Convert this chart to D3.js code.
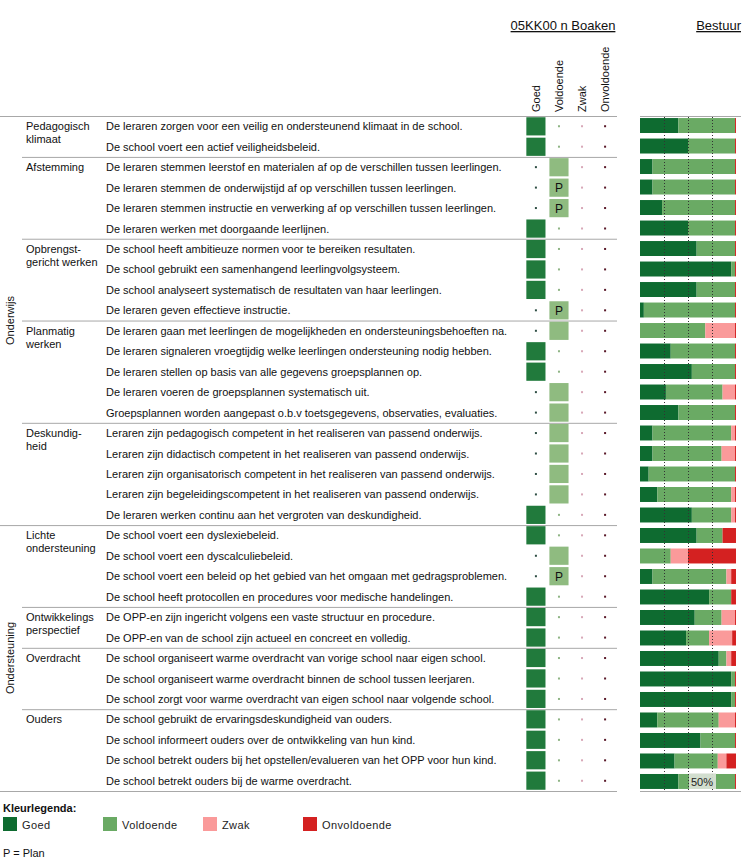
<!DOCTYPE html>
<html><head><meta charset="utf-8">
<script src="https://cdn.jsdelivr.net/npm/d3@7"></script>
<style>
body{margin:0;background:#fff;}
svg text{font-family:Arial,"Liberation Sans",sans-serif;}
</style></head><body>
<svg id="c" width="747" height="864"></svg>
<script>
const schoolName = "05KK00 n Boaken";
const boardName = "Bestuur";
const levels = ["Goed","Voldoende","Zwak","Onvoldoende"];
const levelColors = ["#0e6b30","#6aaa64","#fa9a9a","#d42121"];
const squareColors = {Goed:"#217a3c", Voldoende:"#8fbb80"};
const dotColors = ["#2f4f45","#8fb585","#d8a8b8","#5a1a2a"];

const mainCats = [
  {name:"Onderwijs", start:0, end:19},
  {name:"Ondersteuning", start:20, end:32}
];
const subCats = [
  {name:["Pedagogisch","klimaat"], start:0, end:1},
  {name:["Afstemming"], start:2, end:5},
  {name:["Opbrengst-","gericht werken"], start:6, end:9},
  {name:["Planmatig","werken"], start:10, end:14},
  {name:["Deskundig-","heid"], start:15, end:19},
  {name:["Lichte","ondersteuning"], start:20, end:23},
  {name:["Ontwikkelings","perspectief"], start:24, end:25},
  {name:["Overdracht"], start:26, end:28},
  {name:["Ouders"], start:29, end:32}
];
const items = [
  "De leraren zorgen voor een veilig en ondersteunend klimaat in de school.",
  "De school voert een actief veiligheidsbeleid.",
  "De leraren stemmen leerstof en materialen af op de verschillen tussen leerlingen.",
  "De leraren stemmen de onderwijstijd af op verschillen tussen leerlingen.",
  "De leraren stemmen instructie en verwerking af op verschillen tussen leerlingen.",
  "De leraren werken met doorgaande leerlijnen.",
  "De school heeft ambitieuze normen voor te bereiken resultaten.",
  "De school gebruikt een samenhangend leerlingvolgsysteem.",
  "De school analyseert systematisch de resultaten van haar leerlingen.",
  "De leraren geven effectieve instructie.",
  "De leraren gaan met leerlingen de mogelijkheden en ondersteuningsbehoeften na.",
  "De leraren signaleren vroegtijdig welke leerlingen ondersteuning nodig hebben.",
  "De leraren stellen op basis van alle gegevens groepsplannen op.",
  "De leraren voeren de groepsplannen systematisch uit.",
  "Groepsplannen worden aangepast o.b.v toetsgegevens, observaties, evaluaties.",
  "Leraren zijn pedagogisch competent in het realiseren van passend onderwijs.",
  "Leraren zijn didactisch competent in het realiseren van passend onderwijs.",
  "Leraren zijn organisatorisch competent in het realiseren van passend onderwijs.",
  "Leraren zijn begeleidingscompetent in het realiseren van passend onderwijs.",
  "De leraren werken continu aan het vergroten van deskundigheid.",
  "De school voert een dyslexiebeleid.",
  "De school voert een dyscalculiebeleid.",
  "De school voert een beleid op het gebied van het omgaan met gedragsproblemen.",
  "De school heeft protocollen en procedures voor medische handelingen.",
  "De OPP-en zijn ingericht volgens een vaste structuur en procedure.",
  "De OPP-en van de school zijn actueel en concreet en volledig.",
  "De school organiseert warme overdracht van vorige school naar eigen school.",
  "De school organiseert warme overdracht binnen de school tussen leerjaren.",
  "De school zorgt voor warme overdracht van eigen school naar volgende school.",
  "De school gebruikt de ervaringsdeskundigheid van ouders.",
  "De school informeert ouders over de ontwikkeling van hun kind.",
  "De school betrekt ouders bij het opstellen/evalueren van het OPP voor hun kind.",
  "De school betrekt ouders bij de warme overdracht."
];
// school score per item (G = Goed, V = Voldoende)
const schoolScore = ["G","G","V","V","V","G","G","G","G","V","V","G","G","V","V","V","V","V","V","G","G","V","V","G","G","G","G","G","G","G","G","G","G"];
const planFlag =    [0,0,0,1,1,0,0,0,0,1,0,0,0,0,0,0,0,0,0,0,0,0,1,0,0,0,0,0,0,0,0,0,0];
// board distribution (%)
const boardGoed =        [40,50,13,13,23,50,59,95,59, 4, 0,32,54,27,40,13,13, 9,18,54,59, 0,13,72,57,48,82,95,95,18,63,36,40];
const boardVoldoende =   [59,49,86,86,76,49,40, 4,40,95,68,67,45,59,59,82,72,90,77,41,27,32,77,23,28,24, 8, 4, 4,64,36,45,59];
const boardZwak =        [ 0, 0, 0, 0, 0, 0, 0, 0, 0, 0,31, 0, 0,13, 0, 4,14, 0, 4, 4, 0,18, 5, 0,14,24, 5, 0, 0,17, 0, 9, 0];
const boardOnvoldoende = [ 1, 1, 1, 1, 1, 1, 1, 1, 1, 1, 1, 1, 1, 1, 1, 1, 1, 1, 1, 1,14,50, 5, 5, 1, 4, 5, 1, 1, 1, 1,10, 1];
const gridTicks = [25,50,75];
const axisLabelValue = 50;

const svg = d3.select("#c");
const font = "Arial, 'Liberation Sans', sans-serif";
const lineColor = "#a8a8a8";

const y = d3.scaleBand().domain(d3.range(items.length)).range([116,791]).padding(0);
const ySq = d3.scaleBand().domain(d3.range(items.length)).range([116,791]).paddingInner(0.11).paddingOuter(0.06);
const yBar = d3.scaleBand().domain(d3.range(items.length)).range([116,791]).paddingInner(0.27).paddingOuter(0.1);
const xCol = d3.scaleBand().domain(levels).range([524.5,616.5]).paddingInner(0.17).paddingOuter(0.08);
const xBar = d3.scaleLinear().domain([0,100]).range([640,736]);

// headers
svg.append("text").attr("x",563).attr("y",30).attr("text-anchor","middle")
  .attr("font-size",13).attr("text-decoration","underline").attr("fill","#111").text(schoolName);
svg.append("text").attr("x",741).attr("y",30).attr("text-anchor","end")
  .attr("font-size",13).attr("text-decoration","underline").attr("fill","#111").text(boardName);
levels.forEach(l=>{
  const cx = xCol(l)+xCol.bandwidth()/2;
  svg.append("text").attr("transform",`translate(${cx+4},112) rotate(-90)`)
    .attr("font-size",11).attr("fill","#111").text(l);
});

// lines
const lineG = svg.append("g");
const mainBoundaries = [0, ...mainCats.map(m=>m.end+1)];
const subBoundaries = subCats.map(s=>s.start).filter(s=>!mainBoundaries.includes(s));
const yb = i => i < items.length ? y(i) : y.range()[1];
mainBoundaries.forEach(b=>{
  lineG.append("line").attr("x1",0).attr("x2",617).attr("y1",yb(b)+0.5).attr("y2",yb(b)+0.5)
    .attr("stroke",lineColor).attr("stroke-width",1);
});
subBoundaries.forEach(b=>{
  lineG.append("line").attr("x1",22).attr("x2",617).attr("y1",yb(b)+0.5).attr("y2",yb(b)+0.5)
    .attr("stroke",lineColor).attr("stroke-width",1);
});

// main cat labels
mainCats.forEach(m=>{
  const cy = (y(m.start) + yb(m.end+1))/2;
  svg.append("text").attr("transform",`translate(14,${cy}) rotate(-90)`).attr("text-anchor","middle")
    .attr("font-size",11).attr("fill","#111").text(m.name);
});
// sub cat labels
subCats.forEach(s=>{
  const t = svg.append("text").attr("x",26).attr("y",y(s.start)+y.bandwidth()/2+4)
    .attr("font-size",11).attr("fill","#111");
  s.name.forEach((n,k)=>t.append("tspan").attr("x",26).attr("dy",k?13:0).text(n));
});
// items
svg.append("g").selectAll("text").data(items).join("text")
  .attr("x",106).attr("y",(d,i)=>y(i)+y.bandwidth()/2+4)
  .attr("font-size",11).attr("fill","#111").text(d=>d);

// score squares & dots
const scoreG = svg.append("g");
schoolScore.forEach((s,i)=>{
  const lvl = s==="G" ? "Goed" : "Voldoende";
  levels.forEach((l,k)=>{
    const cx = xCol(l)+xCol.bandwidth()/2, cy = y(i)+y.bandwidth()/2;
    if(l===lvl){
      scoreG.append("rect").attr("x",xCol(l)).attr("y",ySq(i)).attr("width",xCol.bandwidth()).attr("height",ySq.bandwidth())
        .attr("fill",squareColors[l]);
      if(planFlag[i]) scoreG.append("text").attr("x",cx).attr("y",cy+4.5).attr("text-anchor","middle")
        .attr("font-size",12).attr("fill","#111").text("P");
    } else {
      scoreG.append("rect").attr("x",cx-1).attr("y",cy-1).attr("width",2).attr("height",2).attr("fill",dotColors[k]);
    }
  });
});

// board stacked bars
const rows = items.map((d,i)=>({i, Goed:boardGoed[i], Voldoende:boardVoldoende[i], Zwak:boardZwak[i], Onvoldoende:boardOnvoldoende[i]}));
const stack = d3.stack().keys(levels)(rows);
const barG = svg.append("g");
stack.forEach((ser,k)=>{
  barG.append("g").attr("fill",levelColors[k]).selectAll("rect").data(ser).join("rect")
    .attr("x",d=>xBar(d[0])).attr("width",d=>Math.max(0,xBar(d[1])-xBar(d[0])))
    .attr("y",d=>yBar(d.data.i)).attr("height",yBar.bandwidth());
});
// panel lines
svg.append("line").attr("x1",640).attr("x2",741).attr("y1",116.5).attr("y2",116.5).attr("stroke",lineColor);
svg.append("line").attr("x1",640).attr("x2",741).attr("y1",791.5).attr("y2",791.5).attr("stroke",lineColor);
gridTicks.forEach(t=>{
  svg.append("line").attr("x1",Math.round(xBar(t))+0.5).attr("x2",Math.round(xBar(t))+0.5)
    .attr("y1",117).attr("y2",791).attr("stroke","#333").attr("stroke-width",1).attr("stroke-dasharray","1,2");
});
// 50% label
const lx = xBar(axisLabelValue);
svg.append("rect").attr("x",lx+1).attr("y",773).attr("width",27).attr("height",16).attr("fill","#e4e8e2").attr("opacity",0.85);
svg.append("text").attr("x",lx+3).attr("y",786).attr("font-size",11).attr("fill","#222").text(axisLabelValue+"%");

// legend
svg.append("text").attr("x",3).attr("y",812).attr("font-size",11).attr("font-weight","bold").attr("fill","#111").text("Kleurlegenda:");
levels.forEach((l,k)=>{
  svg.append("rect").attr("x",3+k*100).attr("y",817).attr("width",14).attr("height",14).attr("fill",levelColors[k]);
  svg.append("text").attr("x",22+k*100).attr("y",829).attr("font-size",11).attr("letter-spacing",0.4).attr("fill","#222").text(l);
});
svg.append("text").attr("x",3).attr("y",857).attr("font-size",11).attr("fill","#111").text("P = Plan");
</script>
</body></html>
